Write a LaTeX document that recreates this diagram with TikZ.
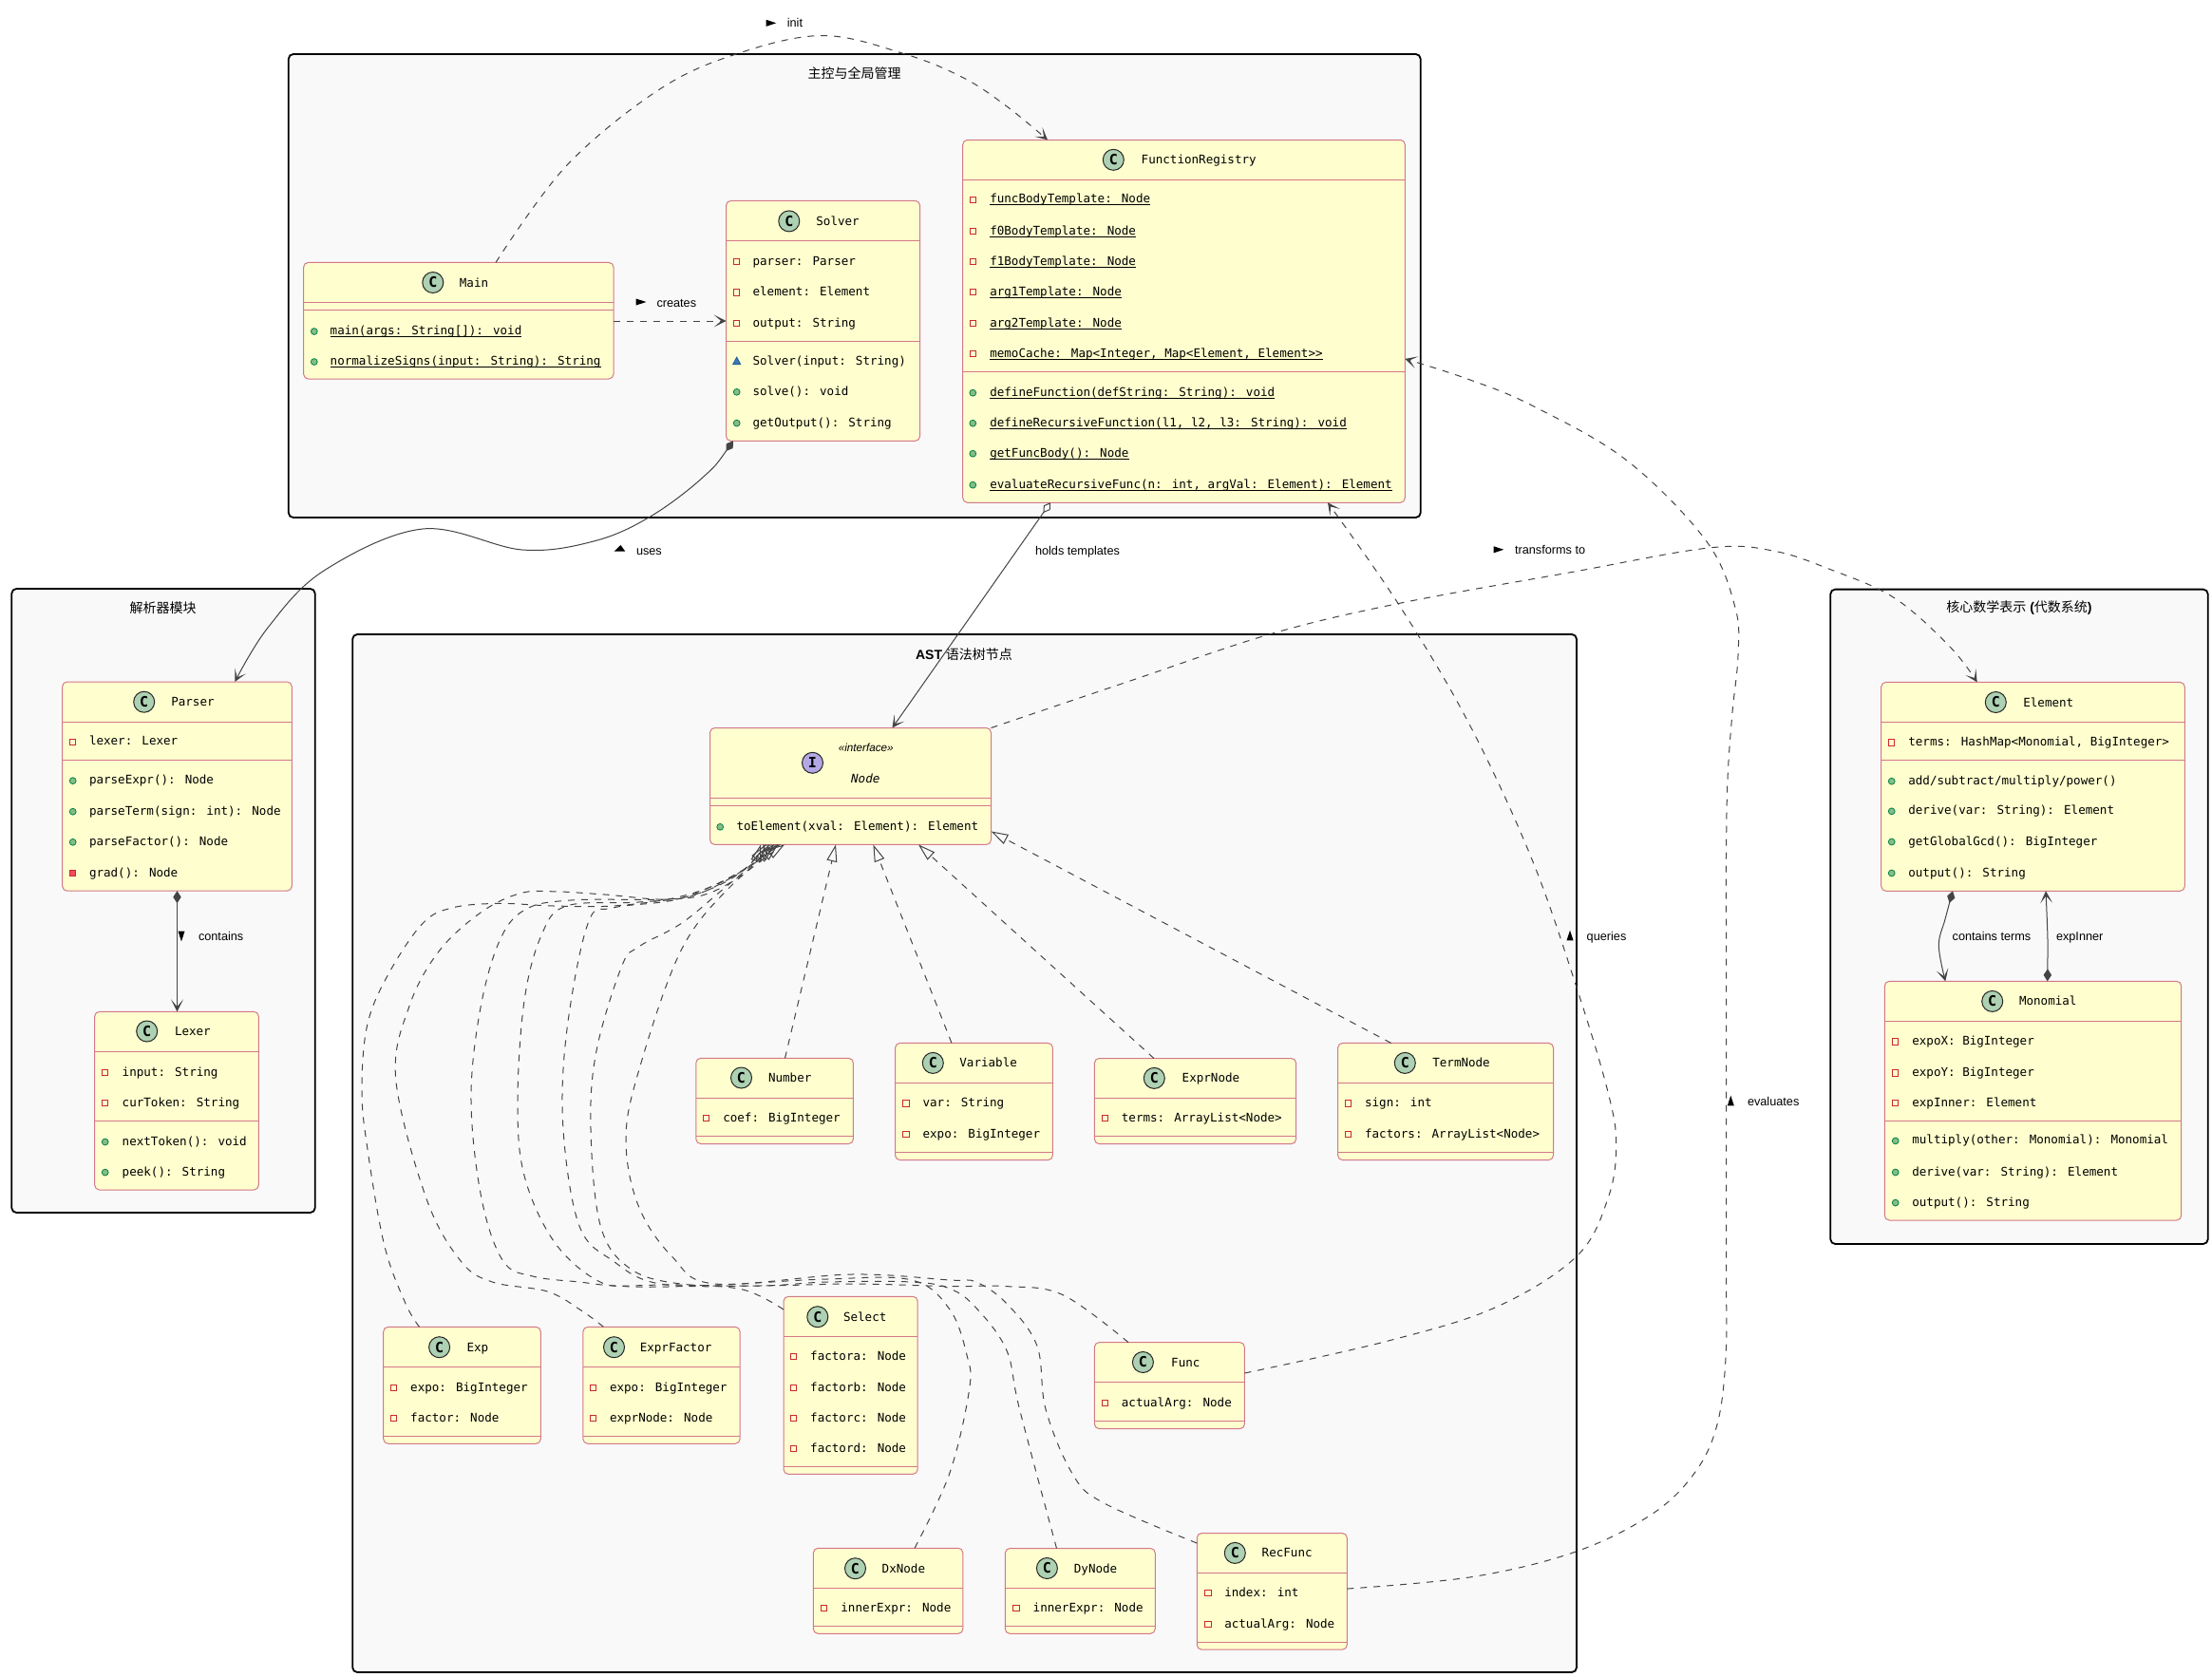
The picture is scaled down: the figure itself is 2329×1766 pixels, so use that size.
\documentclass[tikz,border=0pt]{standalone}
\usepackage{fontspec}
\setmainfont{Liberation Sans}
\newfontfamily\monof{DejaVu Sans Mono}
\newfontfamily\cjk{Noto Sans CJK SC}
\usetikzlibrary{arrows.meta,fit,shapes.geometric}
\definecolor{clsfill}{HTML}{FEFECE}
\definecolor{clsline}{HTML}{D4788A}
\definecolor{pkgfill}{HTML}{F9F9F9}
\definecolor{conn}{HTML}{444444}
\definecolor{circC}{HTML}{ADD1B2}
\definecolor{circI}{HTML}{B4A7E5}
\definecolor{privc}{HTML}{C82930}
\definecolor{privf}{HTML}{F24D5C}
\definecolor{pubc}{HTML}{038048}
\definecolor{pubf}{HTML}{84BE84}
\definecolor{pkgc}{HTML}{1963A0}
\definecolor{pkgf}{HTML}{4177AF}
\tikzset{
  pkgbox/.style={inner sep=0pt,outer sep=0pt,draw=black,fill=pkgfill,line width=0.9pt,rounded corners=2.5pt},
  clsbox/.style={inner sep=0pt,outer sep=0pt,draw=clsline,fill=clsfill,line width=0.5pt,rounded corners=2.5pt},
  clsdiv/.style={draw=clsline,line width=0.5pt},
  clscirc/.style={circle,draw=black!85,line width=0.5pt,fill=circC,minimum size=11pt,inner sep=0pt,font=\monof\bfseries\fontsize{7.5}{8}\selectfont},
  mono/.style={inner sep=0pt,outer sep=0pt,font=\monof\fontsize{6.28}{7.6}\selectfont},
  lbl/.style={inner sep=0pt,outer sep=0pt,anchor=base west,font=\fontsize{6.35}{7.6}\selectfont},
  pkgtitle/.style={inner sep=0pt,outer sep=0pt,font=\bfseries\fontsize{7}{8.4}\selectfont},
  barb/.tip={Stealth[length=6.4pt,width=6.4pt,inset=3.8pt]},
  fdiam/.tip={Diamond[length=6.5pt,width=4.2pt]},
  odiam/.tip={Diamond[open,fill=white,length=6.5pt,width=4.2pt]},
  hollow/.tip={Triangle[open,length=9pt,width=5.5pt]},
  solidc/.style={draw=conn,line width=0.5pt},
  dashc/.style={draw=conn,line width=0.5pt,dash pattern=on 3.5pt off 3.5pt},
  impl/.style={dashc,-hollow},
  dep/.style={dashc,-barb},
  crv/.style={smooth,tension=0.6},
  privi/.style={draw=privc,line width=0.5pt},
  proti/.style={draw=privc,fill=privf,line width=0.5pt},
  pubi/.style={draw=pubc,fill=pubf,line width=0.4pt},
  pkgi/.style={draw=pkgc,fill=pkgf,line width=0.4pt}
}
\newcounter{txt}
\newcommand\klass[5]{\node[clsbox,fit={(#2,#3) (#4,#5)}] (#1) {};}
\newcommand\kdiv[2]{\draw[clsdiv] (#1.west |- 0,#2) -- (#1.east |- 0,#2);}
\newcommand\ktitle[6]{\node[clscirc] (#1-c) at (#3,#4) {#2};
  \node[mono,anchor=base west] (#1-t) at (#5,#4+4.5) {#6};}
\newcommand\mx[2]{\def\iconx{#1}\def\textx{#2}}
\newcommand\stat[1]{\setbox0=\hbox{#1}\rlap{#1}\rule[-1.1pt]{\wd0}{0.4pt}}
\newcommand\mtext[2]{\stepcounter{txt}\node[mono,anchor=base west] (txt\arabic{txt}) at (\textx,#1+4.5) {#2};}
\newcommand\mPriv[2]{\draw[privi] (\iconx-3.2,#1-2.2) rectangle (\iconx+3.2,#1+4.2);\mtext{#1}{#2}}
\newcommand\mProt[2]{\draw[proti] (\iconx-3.2,#1-2.2) rectangle (\iconx+3.2,#1+4.2);\mtext{#1}{#2}}
\newcommand\mPub[2]{\draw[pubi] (\iconx,#1+1) circle[radius=1.7pt];\mtext{#1}{#2}}
\newcommand\mPkg[2]{\draw[pkgi] (\iconx-4,#1+4) -- (\iconx+4,#1+4) -- (\iconx,#1-3.5) -- cycle;\mtext{#1}{#2}}
\newcommand\trir[2]{\fill[black] (#1-5.3,#2-3.5) -- (#1+5.3,#2) -- (#1-5.3,#2+3.5) -- cycle;}
\newcommand\trid[2]{\fill[black] (#1-3.5,#2-5.3) -- (#1+3.5,#2-5.3) -- (#1,#2+5.3) -- cycle;}
\newcommand\triu[2]{\fill[black] (#1-3.5,#2+5.3) -- (#1+3.5,#2+5.3) -- (#1,#2-5.3) -- cycle;}
\begin{document}
\begin{tikzpicture}[x=0.5pt,y=-0.5pt]
\useasboundingbox (0,0) rectangle (2329,1766);
\fill[white] (0,0) rectangle (2329,1766);
% packages
\node[pkgbox,fit={(303.8,57) (1495.7,545)}] (pkgMain) {};
\node[pkgbox,fit={(12.3,620) (331.7,1277)}] (pkgParser) {};
\node[pkgbox,fit={(371.2,668) (1660,1761)}] (pkgAst) {};
\node[pkgbox,fit={(1927.3,620.6) (2324.7,1310)}] (pkgCore) {};
\node[pkgtitle] (tMain) at (899.7,76.8) {\cjk\mdseries 主控与全局管理};
\node[pkgtitle] (tParser) at (171.7,640) {\cjk\mdseries 解析器模块};
\node[pkgtitle] (tAst) at (1015,689) {AST {\cjk\mdseries 语法树节点}};
\node[pkgtitle] (tCore) at (2126,640) {{\cjk\mdseries 核心数学表示} ({\cjk\mdseries 代数系统})};
% Main
\klass{Main}{319.6}{276.4}{646}{399}
\kdiv{Main}{318}\kdiv{Main}{326.4}
\ktitle{Main}{C}{455.8}{297.5}{483.9}{Main}
\mx{330.8}{347.7}
\mPub{348}{\stat{main(args: String[]): void}}
\mPub{380}{\stat{normalizeSigns(input: String): String}}
% Solver
\klass{Solver}{764.5}{211.4}{968.6}{464.3}
\kdiv{Solver}{253}\kdiv{Solver}{359}
\ktitle{Solver}{C}{830.8}{232.9}{859.4}{Solver}
\mx{775.7}{792.6}
\mPriv{274.6}{parser: Parser}
\mPriv{306.8}{element: Element}
\mPriv{339.6}{output: String}
\mPkg{379.6}{Solver(input: String)}
\mPub{411.8}{solve(): void}
\mPub{444.6}{getOutput(): String}
% FunctionRegistry
\klass{FR}{1013.7}{147.3}{1479.3}{529.3}
\kdiv{FR}{189.7}\kdiv{FR}{391.7}
\ktitle{FR}{C}{1172.3}{168.3}{1201.7}{FunctionRegistry}
\mx{1024.3}{1042.3}
\mPriv{209.3}{\stat{funcBodyTemplate: Node}}
\mPriv{242.7}{\stat{f0BodyTemplate: Node}}
\mPriv{274.7}{\stat{f1BodyTemplate: Node}}
\mPriv{306.7}{\stat{arg1Template: Node}}
\mPriv{339.7}{\stat{arg2Template: Node}}
\mPriv{371.7}{\stat{memoCache: Map<Integer, Map<Element, Element>>}}
\mPub{412.7}{\stat{defineFunction(defString: String): void}}
\mPub{444.7}{\stat{defineRecursiveFunction(l1, l2, l3: String): void}}
\mPub{476.7}{\stat{getFuncBody(): Node}}
\mPub{509.7}{\stat{evaluateRecursiveFunc(n: int, argVal: Element): Element}}
% Parser
\klass{Parser}{65.7}{718}{307.3}{938.2}
\kdiv{Parser}{760.4}\kdiv{Parser}{800.3}
\ktitle{Parser}{C}{151.7}{739.2}{180.3}{Parser}
\mx{76.7}{94}
\mPriv{780.4}{lexer: Lexer}
\mPub{821.2}{parseExpr(): Node}
\mPub{853.7}{parseTerm(sign: int): Node}
\mPub{885.8}{parseFactor(): Node}
\mProt{918.7}{grad(): Node}
% Lexer
\klass{Lexer}{99.7}{1065.3}{272.3}{1253}
\kdiv{Lexer}{1107.4}\kdiv{Lexer}{1180.2}
\ktitle{Lexer}{C}{154.7}{1086}{184}{Lexer}
\mx{110.7}{128.7}
\mPriv{1128.6}{input: String}
\mPriv{1160.7}{curToken: String}
\mPub{1201.5}{nextToken(): void}
\mPub{1233.6}{peek(): String}
% Element
\klass{Element}{1980.7}{718.4}{2300.3}{938.3}
\kdiv{Element}{760.6}\kdiv{Element}{800.5}
\ktitle{Element}{C}{2101.3}{739.5}{2130.3}{Element}
\mx{1991.7}{2009.3}
\mPriv{780.8}{terms: HashMap<Monomial, BigInteger>}
\mPub{821.7}{add/subtract/multiply/power()}
\mPub{853.3}{derive(var: String): Element}
\mPub{885.5}{getGlobalGcd(): BigInteger}
\mPub{918.5}{output(): String}
% Monomial
\klass{Monomial}{1984.3}{1033.3}{2296.7}{1285}
\kdiv{Monomial}{1075.6}\kdiv{Monomial}{1180.2}
\ktitle{Monomial}{C}{2097.7}{1054.4}{2126}{Monomial}
\mx{1995.7}{2013.3}
\mPriv{1095.8}{expoX: BigInteger}
\mPriv{1128.8}{expoY: BigInteger}
\mPriv{1160.5}{expInner: Element}
\mPub{1200.4}{multiply(other: Monomial): Monomial}
\mPub{1233.5}{derive(var: String): Element}
\mPub{1265.6}{output(): String}
% Node
\klass{Node}{747.5}{766.5}{1043.5}{889.4}
\kdiv{Node}{840}\kdiv{Node}{848.6}
\node[clscirc,fill=circI] (Node-c) at (855.5,803.3) {I};
\node[inner sep=0pt,font=\itshape\fontsize{5.85}{7}\selectfont] (Node-s) at (911.8,787.8) {«interface»};
\node[mono,font=\monof\itshape\fontsize{6.28}{7.6}\selectfont] (Node-t) at (911.3,819.6) {Node};
\mx{758.2}{775.6}
\mPub{869.8}{toElement(xval: Element): Element}
% Number
\klass{Number}{732.8}{1114.3}{898.4}{1204.5}
\kdiv{Number}{1156.3}\kdiv{Number}{1196.3}
\ktitle{Number}{C}{780.5}{1135}{809}{Number}
\mx{743.5}{761.3}
\mPriv{1176.7}{coef: BigInteger}
% Variable
\klass{Variable}{942.6}{1098.4}{1108.4}{1221.6}
\kdiv{Variable}{1140.4}\kdiv{Variable}{1213.6}
\ktitle{Variable}{C}{982.3}{1119.4}{1010.4}{Variable}
\mx{953.8}{971.6}
\mPriv{1160.9}{var: String}
\mPriv{1193.5}{expo: BigInteger}
% ExprNode
\klass{ExprNode}{1152.4}{1114.5}{1364.6}{1204.6}
\kdiv{ExprNode}{1156.4}\kdiv{ExprNode}{1196.6}
\ktitle{ExprNode}{C}{1215.3}{1135.4}{1244.7}{ExprNode}
\mx{1163.5}{1180.9}
\mPriv{1176.5}{terms: ArrayList<Node>}
% TermNode
\klass{TermNode}{1408.6}{1098.4}{1635.5}{1221.6}
\kdiv{TermNode}{1140.4}\kdiv{TermNode}{1213.6}
\ktitle{TermNode}{C}{1479.3}{1119.4}{1508.3}{TermNode}
\mx{1419.2}{1437.1}
\mPriv{1160.9}{sign: int}
\mPriv{1193.5}{factors: ArrayList<Node>}
% Exp
\klass{Exp}{403.7}{1397.3}{569.3}{1520.3}
\kdiv{Exp}{1439.3}\kdiv{Exp}{1512.3}
\ktitle{Exp}{C}{462.6}{1418.7}{491.6}{Exp}
\mx{414.4}{432.2}
\mPriv{1460.7}{expo: BigInteger}
\mPriv{1492.7}{factor: Node}
% ExprFactor
\klass{ExprFactor}{613.9}{1397.3}{779.1}{1520.3}
\kdiv{ExprFactor}{1439.3}\kdiv{ExprFactor}{1512.3}
\ktitle{ExprFactor}{C}{646.5}{1418.7}{673.8}{ExprFactor}
\mx{624.6}{642}
\mPriv{1460.7}{expo: BigInteger}
\mPriv{1492.7}{exprNode: Node}
% Select
\klass{Select}{825}{1365.3}{966.2}{1552.3}
\kdiv{Select}{1407.3}\kdiv{Select}{1544.3}
\ktitle{Select}{C}{860.8}{1386.7}{888}{Select}
\mx{835.4}{853.2}
\mPriv{1427.7}{factora: Node}
\mPriv{1460.7}{factorb: Node}
\mPriv{1492.7}{factorc: Node}
\mPriv{1524.7}{factord: Node}
% Func
\klass{Func}{1152.4}{1413.6}{1310.4}{1504.6}
\kdiv{Func}{1455.5}\kdiv{Func}{1496.6}
\ktitle{Func}{C}{1203.4}{1434.5}{1233.2}{Func}
\mx{1163.5}{1180.9}
\mPriv{1476.5}{actualArg: Node}
% DxNode
\klass{DxNode}{856.3}{1630.3}{1013.9}{1720.3}
\kdiv{DxNode}{1672.3}\kdiv{DxNode}{1712.3}
\ktitle{DxNode}{C}{900.5}{1651.7}{928.7}{DxNode}
\mx{867.5}{885.4}
\mPriv{1692.7}{innerExpr: Node}
% DyNode
\klass{DyNode}{1058.3}{1630.5}{1216.3}{1720.3}
\kdiv{DyNode}{1672.5}\kdiv{DyNode}{1712.2}
\ktitle{DyNode}{C}{1102.4}{1651.5}{1130.9}{DyNode}
\mx{1069.8}{1087.7}
\mPriv{1692.6}{innerExpr: Node}
% RecFunc
\klass{RecFunc}{1260.3}{1614.5}{1418.3}{1737.2}
\kdiv{RecFunc}{1656.4}\kdiv{RecFunc}{1729.6}
\ktitle{RecFunc}{C}{1300.3}{1635.4}{1328.7}{RecFunc}
\mx{1271.8}{1289.3}
\mPriv{1676.5}{index: int}
\mPriv{1709.5}{actualArg: Node}
% connectors: main
\draw[dep] plot[crv] coordinates {([xshift=19.6pt]Main.north) (596,175) (693,95) (775,57) (866.5,37.5) (953,57) (1014.5,82) (1060,112) ([xshift=-71.75pt]FR.north)};
\draw[dep] (Main.east |- 0,338) -- (Solver.west |- 0,338);
\draw[solidc,{fdiam}-{barb}] plot[crv] coordinates {([xshift=-47.3pt]Solver.south) (739,503.6) (683,545) (625,570) (550,579) (445,557) (341,601) (282,661) ([xshift=30.4pt]Parser.north)};
\draw[solidc,{odiam}-{barb}] ([xshift=-70.25pt]FR.south) -- ([xshift=22pt]Node.north);
\draw[dep] plot[crv] coordinates {(Node.north east) (1190,717) (1340,667) (1475,635) (1652,603) (1799,577) (1866.7,580) (1928,600) (1995,630) (2053,681) ([xshift=-29.4pt]Element.north)};
\draw[dep] plot[crv] coordinates {([yshift=6.55pt]Func.east) (1459,1412.7) (1574,1377) (1660,1323) (1693,1262) (1701.7,1206) (1693,1150) (1661,1043) (1613,905) (1546.7,762) (1473,637) ([xshift=75.75pt]FR.south)};
\draw[dep] plot[crv] coordinates {([yshift=1.4pt]RecFunc.east) (1551,1660.4) (1660,1633.7) (1740,1594) (1785,1550) (1808,1500) (1817,1430) (1817.5,1340) (1817.5,1250) (1817.5,1160) (1817.5,1070) (1817.5,980) (1817.5,900) (1819,820) (1824,750) (1830,690) (1827,640) (1796.7,570) (1713,485) (1613,427) (1545,399) ([yshift=-19.8pt]FR.east)};
\draw[solidc,{fdiam}-{barb}] (Parser.south) -- (Lexer.north -| Parser.south);
\draw[solidc,{fdiam}-{barb}] plot[crv] coordinates {([xshift=-42.25pt]Element.south) (2048,968) (2041.3,995.7) ([xshift=-46.1pt]Monomial.north)};
\draw[solidc,{fdiam}-{barb}] plot[crv] coordinates {([xshift=7.6pt]Monomial.north) (2156,990) ([xshift=6.75pt]Element.south)};
% connectors: implementations
\draw[impl] ([xshift=5.45pt]Number.north) -- ([xshift=-7.75pt]Node.south);
\draw[impl] ([xshift=-11.75pt]Variable.north) -- ([xshift=11.95pt]Node.south);
\draw[impl] ([xshift=-21.8pt]ExprNode.north) -- ([xshift=35.75pt]Node.south);
\draw[impl] ([xshift=-28.7pt]TermNode.north) -- ([yshift=-23.75pt]Node.east);
\draw[impl] plot[crv] coordinates {([xshift=-22.45pt]Exp.north) (427,1372.7) (404.6,1311) (386.8,1209) (381,1148) (386.8,1079) (409,1025.7) (444.8,972.7) (476,956) (525,951.4) (583,954) (645.7,954) (708,946) (753,932) (788.6,911.4) ([xshift=-47.25pt]Node.south)};
\draw[impl] plot[crv] coordinates {([xshift=-30.55pt]ExprFactor.north) (612,1380) (576.4,1360) (518.4,1350) (485,1327.8) (449,1262.4) (416.7,1136) (431.4,1058.4) (462.7,1001) (507,960.4) (547.5,940.8) (583,938.8) (636.8,942) (703.8,947) (748.4,936) (784,915.5) ([xshift=-44.75pt]Node.south)};
\draw[impl] plot[crv] coordinates {([yshift=39.9pt]Select.west) (782,1358) (715,1353) (650,1354) (610,1350) (561,1344) (529.6,1327.8) (507,1262) (496,1160) (505,1066.5) (525,993) (552,958.4) (601,948) (703.8,947) (748,940) (788.6,915.5) ([xshift=-42.75pt]Node.south)};
\draw[impl] plot[crv] coordinates {([xshift=13.95pt]DxNode.north) (1000,1551) (1020.6,1463) (1018,1427) (1000,1379) (960,1348) (871,1347) (759.5,1353) (670,1355) (628,1348) (583,1307) (552,1238) (545,1160) (552,1054) (570,985) (596.6,954) (672.5,950) (730.5,943) (784,915.5) ([xshift=-40.25pt]Node.south)};
\draw[impl] plot[crv] coordinates {([xshift=-12.4pt]DyNode.north) (1073.5,1484) (1059.7,1421.6) (1027.5,1377) (1000,1357) (960,1350) (871,1350) (800,1354) (695,1352) (645.7,1328) (610,1291) (593,1189) (596.6,1087) (619,972.6) (645.7,956) (717,946) (784,915.5) ([xshift=-38.25pt]Node.south)};
\draw[impl] plot[crv] coordinates {([xshift=-21.7pt]Func.north) (1119,1363.6) (1060,1354.6) (1000,1354.6) (900,1352) (800,1354) (717,1352) (663.6,1336) (632.3,1291) (622,1189) (627.9,1107) (654.6,1017.6) (672.5,997) (717,972.6) (761.8,936) (806.4,899) ([xshift=-36.75pt]Node.south)};
\draw[impl] plot[crv] coordinates {([yshift=25.4pt]RecFunc.west) (1160.7,1582) (1128.6,1551) (1101,1484) (1091.8,1417) (1059.7,1372.5) (1027.5,1350) (1000,1348) (896,1342) (752.9,1352) (708,1323.7) (672.5,1270.6) (659,1201) (672.5,1127.8) (717,1001) (770.7,932) ([xshift=-34.75pt]Node.south)};
% labels
\trir{812}{24.3}\node[lbl] (lInit) at (828.8,29) {init};
\trir{675}{318}\node[lbl] (lCreates) at (691.5,323.5) {creates};
\fill[black] (646.7,580.7) -- (658.3,580.7) -- (653.5,574) -- cycle;
\node[lbl] (lUses) at (670,584.5) {uses};
\node[lbl] (lHolds) at (1090,584.5) {holds templates};
\trir{1578}{578.8}\node[lbl] (lTrans) at (1595,583.5) {transforms to};
\trid{191}{986}\node[lbl] (lCont) at (209,990.5) {contains};
\node[lbl] (lTerms) at (2055.7,990.5) {contains terms};
\node[lbl] (lInner) at (2165,990.5) {expInner};
\triu{1653}{985}\node[lbl] (lQuery) at (1670.7,990.5) {queries};
\triu{1822.3}{1159}\node[lbl] (lEval) at (1840,1164.5) {evaluates};
\end{tikzpicture}
\end{document}
